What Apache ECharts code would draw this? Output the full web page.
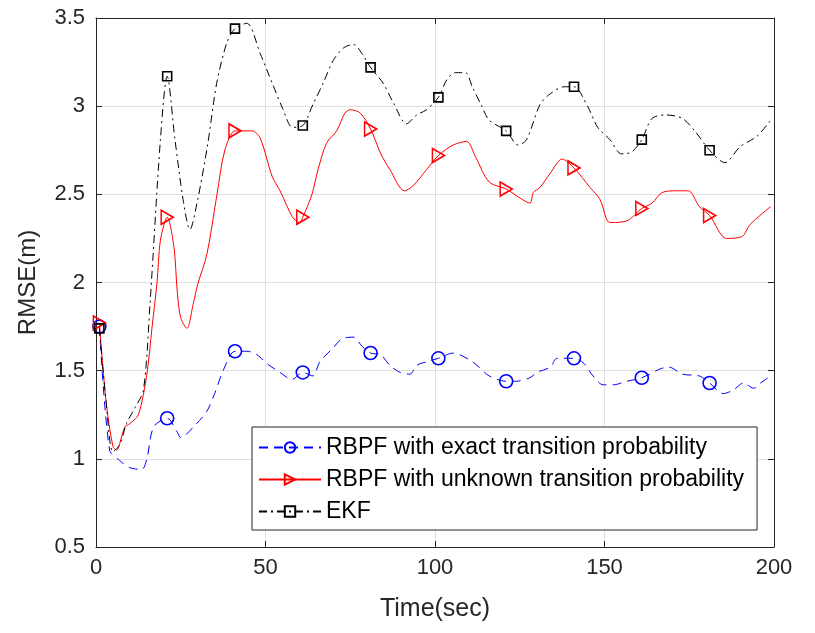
<!DOCTYPE html>
<html>
<head>
<meta charset="utf-8">
<script src="https://cdn.jsdelivr.net/npm/echarts@6/dist/echarts.min.js"></script>
<style>
html,body{margin:0;padding:0;background:#fff;}
#main{width:815px;height:633px;}
</style>
</head>
<body>
<div id="main"></div>
<script>
// 图例名称
var names = ['RBPF with exact transition probability',
             'RBPF with unknown transition probability',
             'EKF'];

// markers every 20 s
var markerTimes = [1, 21, 41, 61, 81, 101, 121, 141, 161, 181];

// RBPF, exact transition probability
var exactT = [1, 4, 7, 10, 13.5, 15, 17, 21, 24, 25, 28.7, 32.7, 35, 37.5, 41, 44.5, 47.5, 50.4, 54.3, 57.8,
              61, 64, 66, 70, 72.5, 76, 78.4, 81, 84, 86.7, 89.7, 92.6, 94.6, 97.5, 101, 105.4, 110.3, 113, 116,
              121, 124, 128, 130, 134, 136, 141, 144, 146.6, 149.6, 152.6, 156.6, 161, 166.4, 169, 173, 178,
              181, 185, 188, 191, 194, 196, 199];
var exactRmse = [1.75, 1.05, 0.99, 0.95, 0.94, 1.00, 1.18, 1.23, 1.15, 1.12, 1.18, 1.27, 1.37, 1.50, 1.61, 1.61, 1.59, 1.54, 1.49, 1.45,
                 1.49, 1.47, 1.55, 1.63, 1.68, 1.69, 1.64, 1.60, 1.59, 1.53, 1.49, 1.48, 1.53, 1.55, 1.57, 1.60, 1.56, 1.52, 1.47,
                 1.44, 1.44, 1.46, 1.49, 1.52, 1.57, 1.57, 1.54, 1.47, 1.42, 1.42, 1.44, 1.46, 1.51, 1.52, 1.48, 1.47,
                 1.43, 1.37, 1.39, 1.43, 1.40, 1.43, 1.47];

// RBPF, unknown transition probability
var unknownT = [1, 3, 5, 6, 8.5, 10, 12.5, 15, 16.5, 18, 19, 21, 23, 24, 25, 26.8, 28.7, 30, 32.7, 35.7, 38,
                41, 43.5, 46, 48.4, 52, 54.3, 58, 60, 61, 63.7, 65.5, 68, 71, 73.4, 75, 78, 81, 84, 86.7, 91, 93.6,
                97.5, 101, 105.4, 109.3, 112, 116, 121, 125, 128, 129, 131, 134, 137.5, 141, 145.7, 148.7, 151.6,
                156.6, 161, 164, 167, 171, 174.7, 178, 181, 186, 190.5, 193, 199];
var unknownRmse = [1.77, 1.32, 1.07, 1.05, 1.18, 1.20, 1.25, 1.48, 1.74, 2.00, 2.24, 2.37, 2.20, 1.94, 1.80, 1.74, 1.88, 1.99, 2.16, 2.50, 2.75,
                   2.86, 2.86, 2.86, 2.82, 2.60, 2.52, 2.37, 2.34, 2.37, 2.50, 2.64, 2.79, 2.86, 2.96, 2.98, 2.96, 2.87, 2.73, 2.64, 2.52, 2.55,
                   2.64, 2.72, 2.78, 2.80, 2.71, 2.57, 2.53, 2.48, 2.45, 2.51, 2.54, 2.62, 2.70, 2.65, 2.54, 2.47, 2.34,
                   2.35, 2.42, 2.45, 2.51, 2.52, 2.52, 2.43, 2.38, 2.25, 2.26, 2.33, 2.43];

// EKF
var ekfT = [1, 3, 5, 7, 9, 11.5, 14, 16, 19, 21, 23.3, 25.7, 27.7, 30, 33, 35.6, 38.6, 41, 44.5, 48.4, 52, 55, 58,
            61, 64, 67, 70, 73, 76, 78.4, 81, 84.7, 87.7, 91.6, 94.6, 97.5, 101, 103.5, 106, 109, 111, 113.8, 116,
            121, 124.5, 127, 131, 134, 138, 141, 145, 148, 151.6, 155, 158, 161, 164, 168, 173, 177, 181, 185.5,
            190, 195, 199];
var ekfRmse = [1.74, 1.32, 1.04, 1.08, 1.20, 1.29, 1.39, 1.90, 2.81, 3.17, 2.81, 2.47, 2.30, 2.47, 2.79, 3.13, 3.36, 3.44, 3.47, 3.30, 3.13, 2.99, 2.88,
               2.89, 3.01, 3.13, 3.26, 3.33, 3.35, 3.30, 3.22, 3.13, 3.02, 2.90, 2.95, 2.98, 3.05, 3.15, 3.19, 3.19, 3.11, 3.00, 2.92,
               2.86, 2.78, 2.81, 3.01, 3.07, 3.11, 3.11, 3.00, 2.88, 2.81, 2.73, 2.74, 2.81, 2.93, 2.95, 2.93, 2.85, 2.75, 2.68,
               2.77, 2.83, 2.92];

var xTicks = [0, 50, 100, 150, 200];
var yMin = 0.5, yMax = 3.5, yStep = 0.5;

var FONT = 'Liberation Sans';
var AX = '#262626';

// 只在 markerTimes 处画符号
function mkData(ts, vs){
	return ts.map(function(t, i){
		var it = {value: [t, vs[i]]};
		if (markerTimes.indexOf(t) < 0) it.symbol = 'none';
		return it;
	});
}

function frameAxis(pos, isX){
	var a = {
		type: 'value',
		position: pos,
		axisLine: {show: true, onZero: false, lineStyle: {color: AX, width: 1}},
		axisTick: {show: true, inside: true, length: 6, lineStyle: {color: AX}},
		axisLabel: {show: false},
		splitLine: {show: false}
	};
	if (isX){ a.min = xTicks[0]; a.max = xTicks[xTicks.length-1]; a.interval = 50; }
	else { a.min = yMin; a.max = yMax; a.interval = yStep; }
	return a;
}

var option = {
	animation: false,
	backgroundColor: '#fff',
	grid: {left: 96, right: 41, top: 18, bottom: 86},
	legend: {
		orient: 'vertical',
		left: 252, top: 427,
		padding: [9, 13, 7, 6],
		backgroundColor: '#fff',
		borderColor: AX, borderWidth: 1,
		itemWidth: 62, itemHeight: 13, itemGap: 9,
		textStyle: {fontFamily: FONT, fontSize: 23, color: '#000', lineHeight: 23},
		data: names
	},
	xAxis: [
		{
			type: 'value', min: 0, max: 200, interval: 50,
			name: 'Time(sec)', nameLocation: 'middle', nameGap: 50,
			nameTextStyle: {fontFamily: FONT, fontSize: 25, color: AX},
			axisLine: {show: true, onZero: false, lineStyle: {color: AX}},
			axisTick: {show: true, inside: true, length: 6, lineStyle: {color: AX}},
			axisLabel: {fontFamily: FONT, fontSize: 22, color: AX, margin: 10},
			splitLine: {show: true, lineStyle: {color: '#dfdfdf', width: 1}}
		},
		frameAxis('top', true)
	],
	yAxis: [
		{
			type: 'value', min: yMin, max: yMax, interval: yStep,
			name: 'RMSE(m)', nameLocation: 'middle', nameGap: 56,
			nameTextStyle: {fontFamily: FONT, fontSize: 24, color: AX},
			axisLine: {show: true, onZero: false, lineStyle: {color: AX}},
			axisTick: {show: true, inside: true, length: 6, lineStyle: {color: AX}},
			axisLabel: {fontFamily: FONT, fontSize: 22, color: AX, margin: 11},
			splitLine: {show: true, lineStyle: {color: '#dfdfdf', width: 1}}
		},
		frameAxis('right', false)
	],
	series: [
		{
			name: names[0], type: 'line', smooth: 0.3,
			showSymbol: true, showAllSymbol: true,
			symbol: 'circle', symbolSize: 13,
			lineStyle: {color: '#0000ff', width: 1, type: [9, 6]},
			itemStyle: {color: 'rgba(0,0,0,0)', borderColor: '#0000ff', borderWidth: 1.6},
			data: mkData(exactT, exactRmse)
		},
		{
			name: names[1], type: 'line', smooth: 0.3,
			showSymbol: true, showAllSymbol: true,
			symbol: 'path://M0,0L10,5L0,10Z', symbolSize: [12, 14],
			lineStyle: {color: '#ff0000', width: 1, type: 'solid'},
			itemStyle: {color: 'rgba(0,0,0,0)', borderColor: '#ff0000', borderWidth: 1.6},
			data: mkData(unknownT, unknownRmse)
		},
		{
			name: names[2], type: 'line', smooth: 0.3,
			showSymbol: true, showAllSymbol: true,
			symbol: 'rect', symbolSize: 9,
			lineStyle: {color: '#000000', width: 1, type: [8, 4, 2, 4]},
			itemStyle: {color: 'rgba(0,0,0,0)', borderColor: '#000000', borderWidth: 1.6},
			data: mkData(ekfT, ekfRmse)
		}
	]
};

var myChart = echarts.init(document.getElementById('main'));
myChart.setOption(option);
</script>
</body>
</html>
